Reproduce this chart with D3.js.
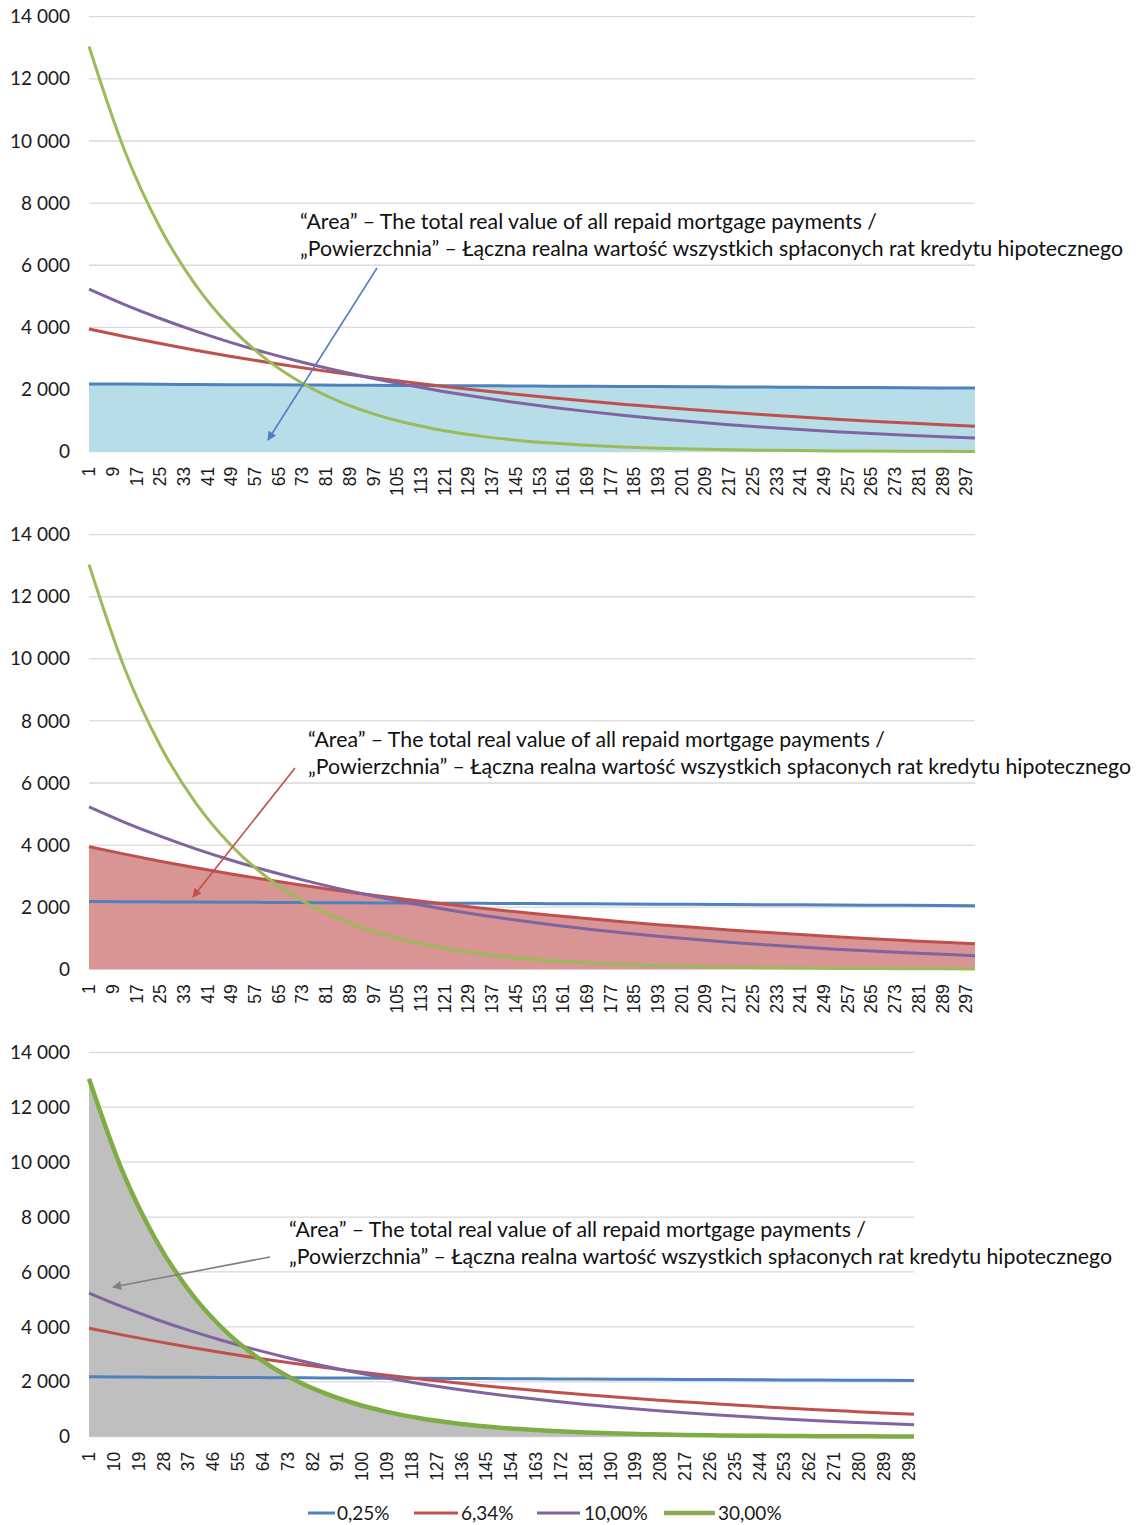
<!DOCTYPE html>
<html><head><meta charset="utf-8">
<script src="https://cdn.jsdelivr.net/npm/d3@7"></script>
<style>body{margin:0;background:#fff}</style>
</head><body><svg id="c" width="1142" height="1525"></svg>
<script>
// ---- data ----
const categories = d3.range(1, 301);               // months 1..300
const sampleMonths = [1,13,25,37,49,61,73,85,97,109,121,133,145,157,169,181,193,205,217,229,241,253,265,277,289,300];
const seriesNames = ["0,25%","6,34%","10,00%","30,00%"];
const rate025  = [2180,2175,2169,2164,2158,2153,2148,2142,2137,2132,2126,2121,2116,2110,2105,2100,2095,2090,2084,2079,2074,2069,2064,2059,2054,2048];
const rate634  = [3950,3708,3481,3268,3067,2879,2703,2537,2382,2236,2099,1970,1850,1736,1630,1530,1436,1348,1266,1188,1115,1047,983,923,866,822];
const rate1000 = [5230,4734,4286,3879,3512,3179,2878,2605,2358,2135,1932,1749,1583,1433,1298,1175,1063,962,871,789,714,646,585,530,479,437];
const rate3000 = [13040,9696,7210,5361,3986,2964,2204,1639,1218,906,674,501,372,277,206,153,114,85,63,47,35,26,19,14,11,8];
const yTicks = [0,2000,4000,6000,8000,10000,12000,14000];
const xTicksA = d3.range(1, 301, 8);   // 1, 9, 17 ... 297
const xTicksB = d3.range(1, 301, 9);   // 1, 10, 19 ... 298
const noteEn = "\u201CArea\u201D \u2013 The total real value of all repaid mortgage payments /";
const notePl = "\u201EPowierzchnia\u201D \u2013 \u0141\u0105czna realna warto\u015B\u0107 wszystkich sp\u0142aconych rat kredytu hipotecznego";

const seriesValues = [rate025, rate634, rate1000, rate3000];

// ---- styles / layout ----
const colors = ["#4f81bd","#c0504d","#8064a2","#9bbb59"];
const panels = [
  {top:16.7, bottom:451.7, left:89, right:975, ticks:xTicksA, fill:0, fillColor:"#b7dde8",
   text:[300,222], arrow:[377,268,268,440], arrowColor:"#4f81bd", green:"#9bbb59", greenW:3},
  {top:534.7, bottom:969.2, left:89, right:975, ticks:xTicksA, fill:1, fillColor:"#d99594",
   text:[308,740], arrow:[295,768,193,897], arrowColor:"#c0504d", green:"#9bbb59", greenW:3},
  {top:1052.3, bottom:1436.7, left:89, right:914, ticks:xTicksB, fill:3, fillColor:"#bfbfbf",
   text:[289,1230], arrow:[270,1257,113,1287], arrowColor:"#7f7f7f", green:"#7fad45", greenW:4.5}
];

const loc = d3.formatLocale({decimal:",", thousands:"\u00A0", grouping:[3], currency:["",""]});
const fmt = loc.format(",");

const svg = d3.select("#c");
const defs = svg.append("defs");

panels.forEach((p, pi) => {
  const x = d3.scalePoint().domain(categories).range([p.left, p.right]);
  const y = d3.scaleLinear().domain([0, 14000]).range([p.bottom, p.top]);
  const g = svg.append("g");

  // gridlines
  g.selectAll("line.grid").data(yTicks).join("line")
    .attr("x1", p.left).attr("x2", p.right)
    .attr("y1", d => y(d)).attr("y2", d => y(d))
    .attr("stroke", "#d9d9d9").attr("stroke-width", 1.3);

  // y tick labels
  g.selectAll("text.yt").data(yTicks).join("text")
    .attr("x", 70).attr("y", d => y(d)).attr("dy", "0.35em")
    .attr("text-anchor", "end")
    .attr("font-family", "Lato, sans-serif").attr("font-size", 19).attr("fill", "#1a1a1a")
    .text(d => fmt(d));

  // x tick labels (rotated)
  g.selectAll("text.xt").data(p.ticks).join("text")
    .attr("transform", d => `translate(${x(d)},${p.bottom + 15}) rotate(-90)`)
    .attr("text-anchor", "end").attr("dy", "0.35em")
    .attr("font-family", "'Liberation Sans', Arial, sans-serif").attr("font-size", 17.5).attr("fill", "#1a1a1a")
    .text(d => d);

  const pts = i => sampleMonths.map((m, k) => [m, seriesValues[i][k]]);

  // filled area
  const area = d3.area().x(d => x(d[0])).y0(y(0)).y1(d => y(d[1])).curve(d3.curveMonotoneX);
  g.append("path").datum(pts(p.fill)).attr("d", area).attr("fill", p.fillColor);

  // lines
  const line = d3.line().x(d => x(d[0])).y(d => y(d[1])).curve(d3.curveMonotoneX);
  seriesValues.forEach((s, i) => {
    g.append("path").datum(pts(i)).attr("d", line).attr("fill", "none")
      .attr("stroke", i === 3 ? p.green : colors[i])
      .attr("stroke-width", i === 3 ? p.greenW : 3)
      .attr("stroke-linejoin", "round");
  });

  // arrow marker
  defs.append("marker").attr("id", "ah" + pi)
    .attr("viewBox", "0 0 10 10").attr("refX", 9).attr("refY", 5)
    .attr("markerWidth", 11).attr("markerHeight", 9).attr("markerUnits", "userSpaceOnUse")
    .attr("orient", "auto")
    .append("path").attr("d", "M0,0 L10,5 L0,10 Z").attr("fill", p.arrowColor);
  const [ax1, ay1, ax2, ay2] = p.arrow;
  g.append("line").attr("x1", ax1).attr("y1", ay1).attr("x2", ax2).attr("y2", ay2)
    .attr("stroke", p.arrowColor).attr("stroke-width", 1.6)
    .attr("marker-end", `url(#ah${pi})`);

  // annotation text
  const t = g.append("text").attr("font-family", "Lato, sans-serif").attr("font-size", 21.3).attr("fill", "#111");
  t.append("tspan").attr("x", p.text[0]).attr("y", p.text[1]).attr("dy", "0.35em").text(noteEn);
  t.append("tspan").attr("x", p.text[0]).attr("y", p.text[1] + 26.5).attr("dy", "0.35em").text(notePl);
});

// legend
const legendPos = [[308,27,337],[414,44,461],[537,43,584],[664,51,718]];
const lg = svg.append("g");
seriesNames.forEach((n, i) => {
  const [lx, lw, tx] = legendPos[i];
  lg.append("line").attr("x1", lx).attr("x2", lx + lw).attr("y1", 1513).attr("y2", 1513)
    .attr("stroke", i === 3 ? "#8aac4e" : colors[i]).attr("stroke-width", i === 3 ? 4.5 : 3);
  lg.append("text").attr("x", tx).attr("y", 1513).attr("dy", "0.35em")
    .attr("font-family", "Lato, sans-serif").attr("font-size", 19).attr("fill", "#1a1a1a").text(n);
});
</script>
</body></html>
